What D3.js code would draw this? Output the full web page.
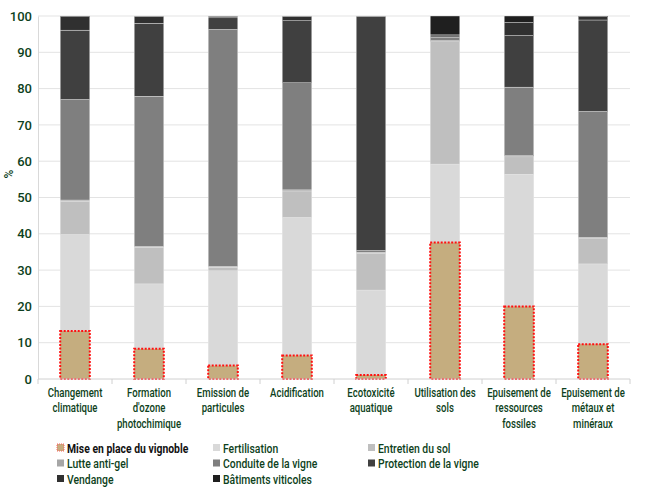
<!DOCTYPE html>
<html>
<head>
<meta charset="utf-8">
<script src="https://cdn.jsdelivr.net/npm/d3@7"></script>
<style>
    body { margin: 0; background: #fff; }
    text { font-family: Roboto, "Noto Sans", sans-serif; }
</style>
</head>
<body>
<div id="chart"></div>
<script>
// categories (x axis, already split into lines)
const categories = [
    ["Changement", "climatique"],
    ["Formation", "d'ozone", "photochimique"],
    ["Emission de", "particules"],
    ["Acidification"],
    ["Ecotoxicité", "aquatique"],
    ["Utilisation des", "sols"],
    ["Epuisement de", "ressources", "fossiles"],
    ["Epuisement de", "métaux et", "minéraux"]
];

const seriesNames = ["Mise en place du vignoble", "Fertilisation", "Entretien du sol", "Lutte anti-gel",
    "Conduite de la vigne", "Protection de la vigne", "Vendange", "Bâtiments viticoles"];
const seriesColors = ["#c5ad7f", "#d9d9d9", "#bfbfbf", "#a6a6a6", "#7f7f7f", "#404040", "#303030", "#1f1f1f"];

// share (%) of each stage, one value per category
const misePlace  = [13.2,  8.3,  3.7,  6.5,  1.1, 37.6, 20.0,  9.6];
const fertil     = [26.6, 17.9, 26.1, 38.0, 23.4, 21.6, 36.4, 22.1];
const entretien  = [ 9.2, 10.1,  1.0,  7.3, 10.1, 33.7,  4.8,  7.0];
const lutteGel   = [ 0.3,  0.2,  0.2,  0.3,  0.3,  0.3,  0.3,  0.3];
const conduite   = [27.7, 41.4, 65.3, 29.5,  0.5,  0.9, 18.9, 34.7];
const protection = [19.1, 20.1,  3.2, 17.1, 64.5,  0.4, 14.2, 25.2];
const vendange   = [ 3.7,  1.9,  0.4,  1.2,  0.1,  0.3,  3.6,  0.9];
const batiments  = [ 0.2,  0.1,  0.1,  0.1,  0.0,  5.2,  1.8,  0.2];

const yTicks = [0, 10, 20, 30, 40, 50, 60, 70, 80, 90, 100];

const allSeries = [misePlace, fertil, entretien, lutteGel, conduite, protection, vendange, batiments];
const textColor = "#0d3f20";

let table = categories.map((c, i) => {
    let row = {cat: i};
    seriesNames.forEach((s, j) => row[s] = allSeries[j][i]);
    return row;
});

let svg = d3.select("#chart").append("svg")
    .attr("width", 650)
    .attr("height", 490);

let x = d3.scaleBand()
    .domain(d3.range(categories.length))
    .range([38, 630])
    .paddingInner(0.6)
    .paddingOuter(0.3);

let y = d3.scaleLinear()
    .domain([0, 100])
    .range([379, 16]);

// grid
svg.append("g")
    .selectAll("line")
    .data(yTicks.slice(1))
    .enter()
    .append("line")
    .attr("x1", 38).attr("x2", 630)
    .attr("y1", d => y(d)).attr("y2", d => y(d))
    .attr("stroke", "#e3e3e3")
    .attr("stroke-width", 1);

// y axis
let yAxis = svg.append("g")
    .attr("transform", "translate(38,0)")
    .call(d3.axisLeft(y).tickValues(yTicks).tickSize(0).tickPadding(6));
yAxis.select(".domain").attr("stroke", "#d9d9d9");
yAxis.selectAll("text")
    .attr("fill", textColor)
    .style("font-size", "13px")
    .style("font-family", "Roboto, sans-serif")
    .style("font-weight", "500");

svg.append("text")
    .attr("transform", "translate(13,174) rotate(-90)")
    .attr("text-anchor", "middle")
    .attr("fill", textColor)
    .style("font-size", "12px")
    .style("font-weight", "500")
    .text("%");

// stacked bars
let stack = d3.stack().keys(seriesNames)(table);

svg.append("g")
    .selectAll("g")
    .data(stack.slice(1))
    .enter()
    .append("g")
    .attr("fill", (d, i) => seriesColors[i + 1])
    .selectAll("rect")
    .data(d => d)
    .enter()
    .append("rect")
    .attr("x", d => x(d.data.cat))
    .attr("width", x.bandwidth())
    .attr("y", d => y(d[1]))
    .attr("height", d => Math.max(0, y(d[0]) - y(d[1])))
    .attr("stroke", "#e8e8e8")
    .attr("stroke-width", 0.4);

// first series: dotted red outline
svg.append("g")
    .selectAll("rect")
    .data(stack[0])
    .enter()
    .append("rect")
    .attr("x", d => x(d.data.cat))
    .attr("width", x.bandwidth())
    .attr("y", d => y(d[1]))
    .attr("height", d => y(d[0]) - y(d[1]))
    .attr("fill", seriesColors[0])
    .attr("stroke", "#ff1010")
    .attr("stroke-width", 2)
    .attr("stroke-dasharray", "2,1.5");

// x axis
let xAxis = svg.append("g")
    .attr("transform", "translate(0,379)");
xAxis.append("line")
    .attr("x1", 38).attr("x2", 630)
    .attr("stroke", "#d0d0d0");
xAxis.selectAll(".tk")
    .data(d3.range(categories.length + 1))
    .enter()
    .append("line")
    .attr("x1", d => 38 + d * x.step())
    .attr("x2", d => 38 + d * x.step())
    .attr("y1", 0).attr("y2", 5)
    .attr("stroke", "#d0d0d0");

let labels = xAxis.selectAll(".lab")
    .data(categories)
    .enter()
    .append("text")
    .attr("text-anchor", "middle")
    .attr("fill", textColor)
    .style("font-size", "12px")
    .style("font-weight", "500")
    .attr("transform", (d, i) => "translate(" + (x(i) + x.bandwidth() / 2) + ",18) scale(0.8,1)");
labels.selectAll("tspan")
    .data(d => d)
    .enter()
    .append("tspan")
    .attr("x", 0)
    .attr("dy", (d, i) => i === 0 ? 0 : 15.5)
    .text(d => d);

// legend
const legCols = [57, 213, 368];
let legend = svg.append("g")
    .selectAll("g")
    .data(seriesNames)
    .enter()
    .append("g")
    .attr("transform", (d, i) => "translate(" + legCols[i % 3] + "," + (448 + Math.floor(i / 3) * 15.5) + ")");

legend.append("rect")
    .attr("x", 0).attr("y", -4)
    .attr("width", 7).attr("height", 7)
    .attr("fill", (d, i) => seriesColors[i])
    .attr("stroke", (d, i) => i === 0 ? "#ff6060" : "none")
    .attr("stroke-width", 1)
    .attr("stroke-dasharray", "1,1");

legend.append("text")
    .attr("transform", "translate(10,4.5) scale(0.8,1)")
    .attr("fill", (d, i) => i === 0 ? "#111" : textColor)
    .style("font-size", "13px")
    .style("font-weight", (d, i) => i === 0 ? "bold" : "500")
    .text(d => d);
</script>
</body>
</html>
